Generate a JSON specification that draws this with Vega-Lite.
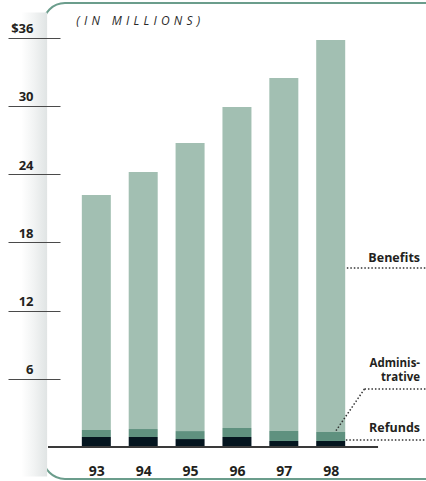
{
  "$schema": "https://vega.github.io/schema/vega-lite/v6.json",
  "width": 427,
  "height": 476,
  "autosize": {"type": "none"},
  "padding": {"left": 43, "top": 3, "right": -44, "bottom": 2},
  "background": "#ffffff",
  "config": {
    "view": {"stroke": "#6b9d8c", "strokeWidth": 2, "cornerRadius": 22},
    "font": "Open Sans"
  },
  "datasets": {
    "spending": [
      {"year": 93, "category": "Refunds", "rank": 1, "amount": 0.88},
      {"year": 93, "category": "Administrative", "rank": 2, "amount": 0.62},
      {"year": 93, "category": "Benefits", "rank": 3, "amount": 20.65},
      {"year": 94, "category": "Refunds", "rank": 1, "amount": 0.88},
      {"year": 94, "category": "Administrative", "rank": 2, "amount": 0.70},
      {"year": 94, "category": "Benefits", "rank": 3, "amount": 22.60},
      {"year": 95, "category": "Refunds", "rank": 1, "amount": 0.70},
      {"year": 95, "category": "Administrative", "rank": 2, "amount": 0.70},
      {"year": 95, "category": "Benefits", "rank": 3, "amount": 25.33},
      {"year": 96, "category": "Refunds", "rank": 1, "amount": 0.88},
      {"year": 96, "category": "Administrative", "rank": 2, "amount": 0.79},
      {"year": 96, "category": "Benefits", "rank": 3, "amount": 28.22},
      {"year": 97, "category": "Refunds", "rank": 1, "amount": 0.53},
      {"year": 97, "category": "Administrative", "rank": 2, "amount": 0.88},
      {"year": 97, "category": "Benefits", "rank": 3, "amount": 31.03},
      {"year": 98, "category": "Refunds", "rank": 1, "amount": 0.53},
      {"year": 98, "category": "Administrative", "rank": 2, "amount": 0.79},
      {"year": 98, "category": "Benefits", "rank": 3, "amount": 34.46}
    ],
    "one": [{}]
  },
  "layer": [
    {
      "description": "soft shadow along the left edge of the frame",
      "data": {"name": "one"},
      "mark": {
        "type": "rect",
        "fill": {
          "gradient": "linear", "x1": 0, "y1": 0, "x2": 1, "y2": 0,
          "stops": [
            {"offset": 0, "color": "#ffffff"},
            {"offset": 0.5, "color": "#f1f3f3"},
            {"offset": 1, "color": "#e0e4e4"}
          ]
        }
      },
      "encoding": {
        "x": {"datum": 91.40, "type": "quantitative"},
        "x2": {"datum": 91.95},
        "y": {"datum": -2.6, "type": "quantitative"},
        "y2": {"datum": 38.2}
      }
    },
    {
      "data": {"name": "spending"},
      "mark": {"type": "bar", "width": 29},
      "encoding": {
        "x": {
          "field": "year",
          "type": "quantitative",
          "scale": {"domain": [91.969, 100.865], "nice": false, "zero": false},
          "axis": {
            "orient": "bottom",
            "offset": -32,
            "values": [93, 94, 95, 96, 97, 98],
            "format": "d",
            "domain": false,
            "ticks": false,
            "tickSize": 0,
            "grid": false,
            "title": null,
            "labelBaseline": "alphabetic",
            "labelPadding": 28,
            "labelFont": "Open Sans",
            "labelFontWeight": "bold",
            "labelFontSize": 14,
            "labelColor": "#231f20"
          }
        },
        "y": {
          "field": "amount",
          "type": "quantitative",
          "stack": "zero",
          "scale": {"domain": [-2.813, 39.033], "nice": false, "zero": false},
          "axis": {
            "orient": "left",
            "offset": -17,
            "values": [6, 12, 18, 24, 30, 36],
            "labelExpr": "datum.value === 36 ? '$36' : datum.label",
            "domain": false,
            "grid": false,
            "title": null,
            "tickSize": 52,
            "tickColor": "#4a4a4a",
            "tickWidth": 1,
            "labelAlign": "right",
            "labelBaseline": "alphabetic",
            "labelPadding": -25,
            "labelOffset": -5,
            "labelFont": "Open Sans",
            "labelFontWeight": "bold",
            "labelFontSize": 13,
            "labelColor": "#231f20",
            "zindex": 1
          }
        },
        "order": {"field": "rank", "type": "quantitative", "sort": "ascending"},
        "color": {
          "field": "category",
          "type": "nominal",
          "scale": {
            "domain": ["Refunds", "Administrative", "Benefits"],
            "range": ["#04151f", "#5f917f", "#a2bfb2"]
          },
          "legend": null
        }
      }
    },
    {
      "description": "baseline under the bars",
      "data": {"name": "one"},
      "mark": {"type": "rule", "color": "#3a3a3a", "strokeWidth": 2},
      "encoding": {
        "x": {"datum": 91.969, "type": "quantitative"},
        "x2": {"datum": 99.01},
        "y": {"datum": 0, "type": "quantitative"}
      }
    },
    {
      "data": {"name": "one"},
      "mark": {"type": "rule", "color": "#333333", "strokeWidth": 1.5, "strokeDash": [1.5, 2]},
      "encoding": {
        "x": {"datum": 98.344, "type": "quantitative"},
        "x2": {"datum": 100.5},
        "y": {"datum": 15.74, "type": "quantitative"}
      }
    },
    {
      "data": {"name": "one"},
      "mark": {"type": "rule", "color": "#333333", "strokeWidth": 1.5, "strokeDash": [1.5, 2]},
      "encoding": {
        "x": {"datum": 98.72, "type": "quantitative"},
        "x2": {"datum": 100.5},
        "y": {"datum": 5.1, "type": "quantitative"}
      }
    },
    {
      "data": {"name": "one"},
      "mark": {"type": "rule", "color": "#333333", "strokeWidth": 1.5, "strokeDash": [1.5, 2]},
      "encoding": {
        "x": {"datum": 98.72, "type": "quantitative"},
        "x2": {"datum": 98.094},
        "y": {"datum": 5.1, "type": "quantitative"},
        "y2": {"datum": 1.32}
      }
    },
    {
      "data": {"name": "one"},
      "mark": {"type": "rule", "color": "#333333", "strokeWidth": 1.5, "strokeDash": [1.5, 2]},
      "encoding": {
        "x": {"datum": 98.323, "type": "quantitative"},
        "x2": {"datum": 100.5},
        "y": {"datum": 0.62, "type": "quantitative"}
      }
    },
    {
      "data": {"name": "one"},
      "mark": {"type": "text", "text": "Benefits", "align": "right", "baseline": "alphabetic", "font": "Open Sans", "fontWeight": "bold", "fontSize": 12.5, "color": "#231f20"},
      "encoding": {
        "x": {"datum": 99.906, "type": "quantitative"},
        "y": {"datum": 16.26, "type": "quantitative"}
      }
    },
    {
      "data": {"name": "one"},
      "mark": {"type": "text", "text": ["Adminis-", "trative"], "lineHeight": 13.5, "align": "right", "baseline": "alphabetic", "font": "Open Sans", "fontWeight": "bold", "fontSize": 11.5, "color": "#231f20"},
      "encoding": {
        "x": {"datum": 99.906, "type": "quantitative"},
        "y": {"datum": 7.03, "type": "quantitative"}
      }
    },
    {
      "data": {"name": "one"},
      "mark": {"type": "text", "text": "Refunds", "align": "right", "baseline": "alphabetic", "font": "Open Sans", "fontWeight": "bold", "fontSize": 12.5, "color": "#231f20"},
      "encoding": {
        "x": {"datum": 99.906, "type": "quantitative"},
        "y": {"datum": 1.32, "type": "quantitative"}
      }
    },
    {
      "data": {"name": "one"},
      "mark": {"type": "text", "text": "(\u2005\u200aI\u2005\u200aN\u2003M\u2005\u200aI\u2005\u200aL\u2005\u200aL\u2005\u200aI\u2005\u200aO\u2005\u200aN\u2005\u200aS\u2005\u200a)", "align": "left", "baseline": "alphabetic", "font": "Open Sans", "fontStyle": "italic", "fontSize": 12, "color": "#2a2a2a"},
      "encoding": {
        "x": {"datum": 92.573, "type": "quantitative"},
        "y": {"datum": 37.13, "type": "quantitative"}
      }
    }
  ]
}
